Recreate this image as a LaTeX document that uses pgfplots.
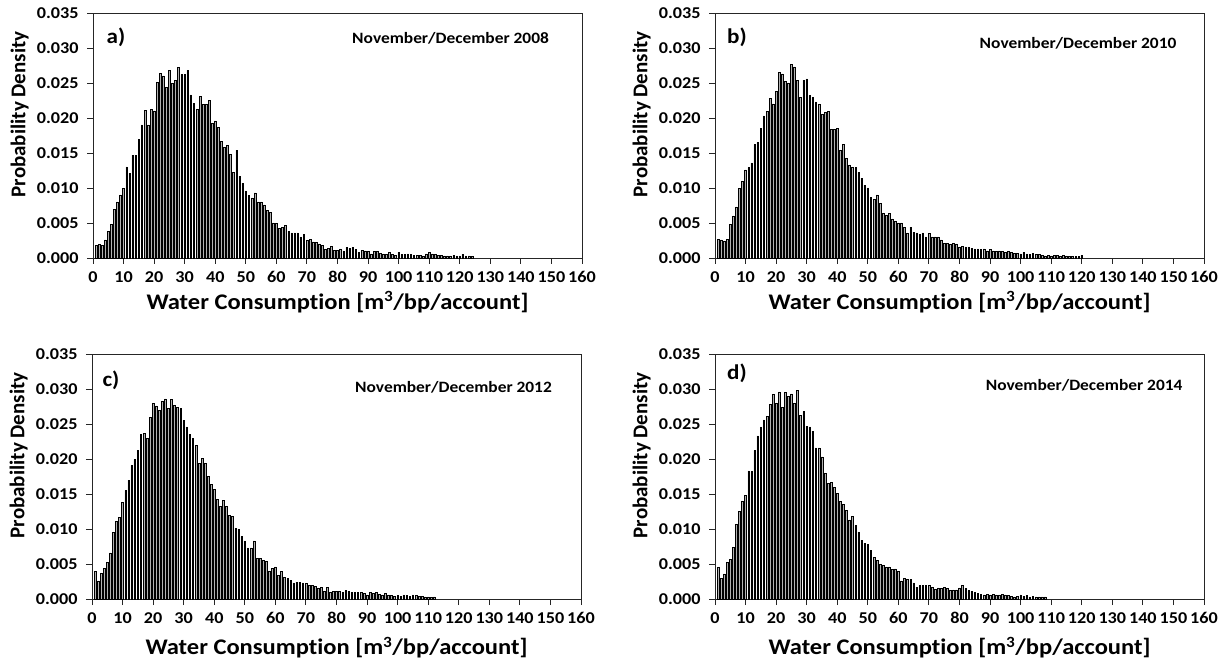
\documentclass[border=0pt]{standalone}
\usepackage{fontspec}
\setmainfont[Ligatures=NoCommon]{Carlito}
\newfontfamily\wide[Ligatures=NoCommon,FakeStretch=1.1]{Carlito}
\usepackage{pgfplots}
\usepackage{pgfplotstable}
\pgfplotsset{compat=1.18}

\pgfplotstableread[row sep=\\]{x y\\
1 0.0018\\ 2 0.0019\\ 3 0.0018\\ 4 0.0026\\ 5 0.0038\\ 6 0.0048\\ 7 0.0069\\ 8 0.0080\\ 9 0.0090\\ 10 0.0099\\
11 0.0130\\ 12 0.0121\\ 13 0.0147\\ 14 0.0147\\ 15 0.0169\\ 16 0.0190\\ 17 0.0211\\ 18 0.0190\\ 19 0.0212\\ 20 0.0210\\
21 0.0251\\ 22 0.0264\\ 23 0.0260\\ 24 0.0244\\ 25 0.0268\\ 26 0.0249\\ 27 0.0254\\ 28 0.0272\\ 29 0.0262\\ 30 0.0262\\
31 0.0268\\ 32 0.0233\\ 33 0.0221\\ 34 0.0212\\ 35 0.0231\\ 36 0.0219\\ 37 0.0219\\ 38 0.0225\\ 39 0.0192\\ 40 0.0196\\
41 0.0187\\ 42 0.0167\\ 43 0.0158\\ 44 0.0161\\ 45 0.0148\\ 46 0.0122\\ 47 0.0154\\ 48 0.0117\\ 49 0.0107\\ 50 0.0096\\
51 0.0089\\ 52 0.0086\\ 53 0.0093\\ 54 0.0080\\ 55 0.0080\\ 56 0.0076\\ 57 0.0068\\ 58 0.0065\\ 59 0.0050\\ 60 0.0049\\
61 0.0042\\ 62 0.0044\\ 63 0.0047\\ 64 0.0038\\ 65 0.0036\\ 66 0.0036\\ 67 0.0036\\ 68 0.0030\\ 69 0.0034\\ 70 0.0025\\
71 0.0027\\ 72 0.0023\\ 73 0.0022\\ 74 0.0020\\ 75 0.0018\\ 76 0.0012\\ 77 0.0014\\ 78 0.0017\\ 79 0.0011\\ 80 0.0011\\
81 0.0013\\ 82 0.0010\\ 83 0.0015\\ 84 0.0014\\ 85 0.0015\\ 86 0.0012\\ 87 0.0008\\ 88 0.0011\\ 89 0.0010\\ 90 0.0009\\
91 0.0006\\ 92 0.0009\\ 93 0.0009\\ 94 0.0007\\ 95 0.0006\\ 96 0.0005\\ 97 0.0008\\ 98 0.0005\\ 99 0.0004\\ 100 0.0008\\
101 0.0005\\ 102 0.0005\\ 103 0.0006\\ 104 0.0005\\ 105 0.0004\\ 106 0.0004\\ 107 0.0004\\ 108 0.0003\\ 109 0.0006\\ 110 0.0008\\
111 0.0006\\ 112 0.0005\\ 113 0.0004\\ 114 0.0004\\ 115 0.0003\\ 116 0.0003\\ 117 0.0003\\ 118 0.0004\\ 119 0.0003\\ 120 0.0003\\
121 0.0005\\ 122 0.0003\\ 123 0.0003\\ 124 0.0002\\
}\dataA

\pgfplotstableread[row sep=\\]{x y\\
1 0.0027\\ 2 0.0026\\ 3 0.0024\\ 4 0.0027\\ 5 0.0048\\ 6 0.0060\\ 7 0.0073\\ 8 0.0099\\ 9 0.0109\\ 10 0.0126\\
11 0.0129\\ 12 0.0136\\ 13 0.0162\\ 14 0.0165\\ 15 0.0185\\ 16 0.0203\\ 17 0.0209\\ 18 0.0228\\ 19 0.0220\\ 20 0.0238\\
21 0.0265\\ 22 0.0263\\ 23 0.0252\\ 24 0.0250\\ 25 0.0277\\ 26 0.0273\\ 27 0.0254\\ 28 0.0229\\ 29 0.0254\\ 30 0.0256\\
31 0.0232\\ 32 0.0229\\ 33 0.0223\\ 34 0.0219\\ 35 0.0205\\ 36 0.0208\\ 37 0.0209\\ 38 0.0184\\ 39 0.0184\\ 40 0.0185\\
41 0.0154\\ 42 0.0162\\ 43 0.0142\\ 44 0.0133\\ 45 0.0129\\ 46 0.0129\\ 47 0.0122\\ 48 0.0114\\ 49 0.0104\\ 50 0.0100\\
51 0.0087\\ 52 0.0084\\ 53 0.0090\\ 54 0.0078\\ 55 0.0064\\ 56 0.0061\\ 57 0.0064\\ 58 0.0056\\ 59 0.0052\\ 60 0.0050\\
61 0.0050\\ 62 0.0044\\ 63 0.0036\\ 64 0.0044\\ 65 0.0037\\ 66 0.0036\\ 67 0.0034\\ 68 0.0036\\ 69 0.0030\\ 70 0.0035\\
71 0.0030\\ 72 0.0030\\ 73 0.0030\\ 74 0.0026\\ 75 0.0021\\ 76 0.0021\\ 77 0.0019\\ 78 0.0021\\ 79 0.0020\\ 80 0.0016\\
81 0.0017\\ 82 0.0016\\ 83 0.0016\\ 84 0.0014\\ 85 0.0013\\ 86 0.0013\\ 87 0.0012\\ 88 0.0013\\ 89 0.0010\\ 90 0.0012\\
91 0.0010\\ 92 0.0009\\ 93 0.0010\\ 94 0.0009\\ 95 0.0008\\ 96 0.0009\\ 97 0.0008\\ 98 0.0007\\ 99 0.0007\\ 100 0.0006\\
101 0.0008\\ 102 0.0006\\ 103 0.0005\\ 104 0.0007\\ 105 0.0005\\ 106 0.0005\\ 107 0.0004\\ 108 0.0003\\ 109 0.0004\\ 110 0.0003\\
111 0.0004\\ 112 0.0004\\ 113 0.0003\\ 114 0.0004\\ 115 0.0003\\ 116 0.0002\\ 117 0.0002\\ 118 0.0002\\ 119 0.0002\\ 120 0.0004\\
}\dataB

\pgfplotstableread[row sep=\\]{x y\\
1 0.0040\\ 2 0.0026\\ 3 0.0037\\ 4 0.0044\\ 5 0.0052\\ 6 0.0066\\ 7 0.0095\\ 8 0.0111\\ 9 0.0117\\ 10 0.0138\\
11 0.0155\\ 12 0.0170\\ 13 0.0191\\ 14 0.0199\\ 15 0.0212\\ 16 0.0235\\ 17 0.0237\\ 18 0.0230\\ 19 0.0260\\ 20 0.0280\\
21 0.0276\\ 22 0.0270\\ 23 0.0282\\ 24 0.0286\\ 25 0.0272\\ 26 0.0285\\ 27 0.0277\\ 28 0.0274\\ 29 0.0272\\ 30 0.0255\\
31 0.0246\\ 32 0.0235\\ 33 0.0229\\ 34 0.0220\\ 35 0.0194\\ 36 0.0201\\ 37 0.0194\\ 38 0.0175\\ 39 0.0164\\ 40 0.0157\\
41 0.0142\\ 42 0.0132\\ 43 0.0141\\ 44 0.0132\\ 45 0.0119\\ 46 0.0118\\ 47 0.0101\\ 48 0.0100\\ 49 0.0089\\ 50 0.0083\\
51 0.0073\\ 52 0.0073\\ 53 0.0083\\ 54 0.0058\\ 55 0.0058\\ 56 0.0055\\ 57 0.0054\\ 58 0.0039\\ 59 0.0044\\ 60 0.0046\\
61 0.0034\\ 62 0.0040\\ 63 0.0031\\ 64 0.0029\\ 65 0.0027\\ 66 0.0023\\ 67 0.0024\\ 68 0.0024\\ 69 0.0023\\ 70 0.0022\\
71 0.0019\\ 72 0.0020\\ 73 0.0018\\ 74 0.0016\\ 75 0.0017\\ 76 0.0011\\ 77 0.0017\\ 78 0.0010\\ 79 0.0011\\ 80 0.0011\\
81 0.0011\\ 82 0.0010\\ 83 0.0012\\ 84 0.0011\\ 85 0.0010\\ 86 0.0010\\ 87 0.0009\\ 88 0.0010\\ 89 0.0008\\ 90 0.0006\\
91 0.0009\\ 92 0.0008\\ 93 0.0010\\ 94 0.0007\\ 95 0.0006\\ 96 0.0008\\ 97 0.0006\\ 98 0.0005\\ 99 0.0004\\ 100 0.0005\\
101 0.0004\\ 102 0.0006\\ 103 0.0005\\ 104 0.0004\\ 105 0.0006\\ 106 0.0005\\ 107 0.0004\\ 108 0.0004\\ 109 0.0003\\ 110 0.0003\\
111 0.0002\\ 112 0.0003\\
}\dataC

\pgfplotstableread[row sep=\\]{x y\\
1 0.0045\\ 2 0.0029\\ 3 0.0036\\ 4 0.0052\\ 5 0.0057\\ 6 0.0074\\ 7 0.0107\\ 8 0.0125\\ 9 0.0139\\ 10 0.0148\\
11 0.0183\\ 12 0.0182\\ 13 0.0212\\ 14 0.0233\\ 15 0.0246\\ 16 0.0256\\ 17 0.0261\\ 18 0.0278\\ 19 0.0292\\ 20 0.0280\\
21 0.0296\\ 22 0.0274\\ 23 0.0295\\ 24 0.0290\\ 25 0.0293\\ 26 0.0280\\ 27 0.0298\\ 28 0.0262\\ 29 0.0268\\ 30 0.0247\\
31 0.0246\\ 32 0.0240\\ 33 0.0216\\ 34 0.0216\\ 35 0.0203\\ 36 0.0180\\ 37 0.0165\\ 38 0.0167\\ 39 0.0159\\ 40 0.0151\\
41 0.0139\\ 42 0.0135\\ 43 0.0127\\ 44 0.0113\\ 45 0.0118\\ 46 0.0105\\ 47 0.0096\\ 48 0.0084\\ 49 0.0080\\ 50 0.0078\\
51 0.0070\\ 52 0.0060\\ 53 0.0055\\ 54 0.0049\\ 55 0.0048\\ 56 0.0046\\ 57 0.0046\\ 58 0.0042\\ 59 0.0043\\ 60 0.0039\\
61 0.0026\\ 62 0.0029\\ 63 0.0028\\ 64 0.0028\\ 65 0.0023\\ 66 0.0017\\ 67 0.0019\\ 68 0.0019\\ 69 0.0019\\ 70 0.0019\\
71 0.0017\\ 72 0.0014\\ 73 0.0016\\ 74 0.0015\\ 75 0.0017\\ 76 0.0015\\ 77 0.0012\\ 78 0.0013\\ 79 0.0013\\ 80 0.0016\\
81 0.0019\\ 82 0.0015\\ 83 0.0012\\ 84 0.0011\\ 85 0.0009\\ 86 0.0008\\ 87 0.0007\\ 88 0.0006\\ 89 0.0007\\ 90 0.0006\\
91 0.0007\\ 92 0.0006\\ 93 0.0006\\ 94 0.0007\\ 95 0.0006\\ 96 0.0005\\ 97 0.0004\\ 98 0.0003\\ 99 0.0004\\ 100 0.0006\\
101 0.0004\\ 102 0.0005\\ 103 0.0003\\ 104 0.0004\\ 105 0.0003\\ 106 0.0003\\ 107 0.0003\\ 108 0.0003\\
}\dataD

\tikzset{
  tag/.style={font=\wide\fontsize{21}{24}\selectfont\bfseries},
  ttl/.style={font=\wide\fontsize{15.8}{18}\selectfont\bfseries},
}
\pgfplotsset{
  panel/.style={
    scale only axis, width=489pt, height=245pt,
    xmin=0, xmax=160, ymin=0, ymax=0.035,
    xtick={0,10,20,30,40,50,60,70,80,90,100,110,120,130,140,150,160},
    ytick={0,0.005,0.01,0.015,0.02,0.025,0.03,0.035},
    scaled y ticks=false,
    yticklabel style={/pgf/number format/fixed, /pgf/number format/fixed zerofill, /pgf/number format/precision=3, xshift=-5pt},
    xticklabel style={yshift=-4pt},
    /pgf/number format/assume math mode=true,
    tick align=outside, xtick pos=left, ytick pos=left,
    major tick length=6pt,
    axis line style={line width=0.9pt, black!85},
    tick style={line width=0.9pt, black!85},
    tick label style={font=\wide\fontsize{16.5}{19}\selectfont\bfseries},
    xlabel style={font=\wide\fontsize{22.3}{26}\selectfont\bfseries},
    ylabel style={font=\fontsize{21}{24}\selectfont\bfseries},
    xlabel={Water Consumption [m\textsuperscript{3}/bp/account]},
    ylabel={Probability Density},
    ylabel style={at={(axis description cs:-0.15,0.586)}, anchor=center},
    ybar, bar width=0.55,
    clip=false,
  },
  bars/.style={draw=black, fill=black!30, line width=0.5pt},
}

\begin{document}
\begin{tikzpicture}
\useasboundingbox (0pt,0pt) rectangle (1227pt,665pt);
\begin{axis}[panel, at={(93pt,407pt)}, anchor=south west,
  xlabel style={at={(axis description cs:0.5,-0.18)}, anchor=center}]
\addplot[bars] table[x=x,y=y] {\dataA};
\node[tag] at (axis cs:7.5,0.0316) {a)};
\node[ttl] at (axis cs:117,0.0314) {November/December 2008};
\end{axis}
\begin{axis}[panel, at={(715pt,407pt)}, anchor=south west,
  xlabel style={at={(axis description cs:0.5,-0.18)}, anchor=center}]
\addplot[bars] table[x=x,y=y] {\dataB};
\node[tag] at (axis cs:7.2,0.0316) {b)};
\node[ttl] at (axis cs:118.8,0.0306) {November/December 2010};
\end{axis}
\begin{axis}[panel, at={(92pt,66pt)}, anchor=south west,
  xlabel style={at={(axis description cs:0.5,-0.198)}, anchor=center}]
\addplot[bars] table[x=x,y=y] {\dataC};
\node[tag] at (axis cs:6.2,0.0313) {c)};
\node[ttl] at (axis cs:118.3,0.0303) {November/December 2012};
\end{axis}
\begin{axis}[panel, at={(715pt,66pt)}, anchor=south west,
  xlabel style={at={(axis description cs:0.5,-0.198)}, anchor=center}]
\addplot[bars] table[x=x,y=y] {\dataD};
\node[tag] at (axis cs:7.2,0.0322) {d)};
\node[ttl] at (axis cs:120.8,0.0305) {November/December 2014};
\end{axis}
\end{tikzpicture}
\end{document}
